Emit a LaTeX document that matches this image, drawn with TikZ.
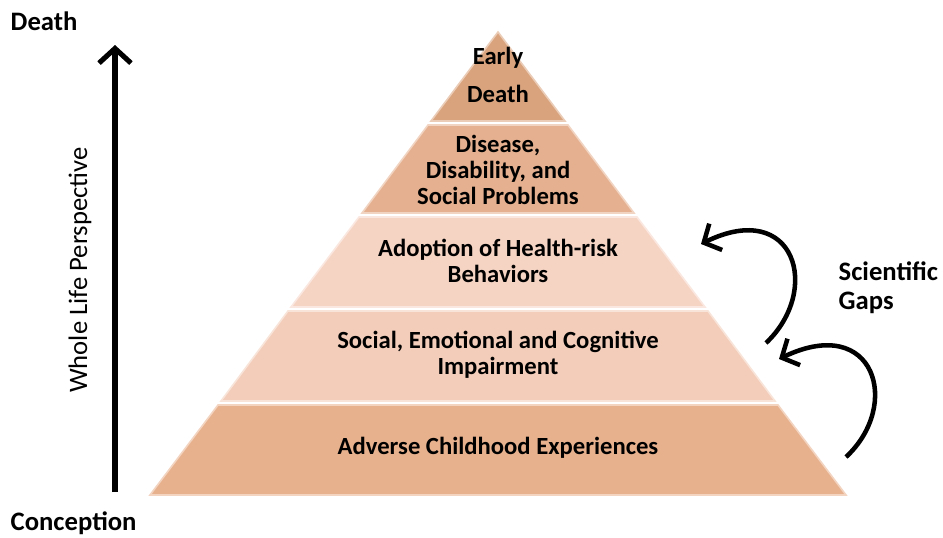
\documentclass[tikz,border=0pt]{standalone}
\usepackage{fontspec}
\setmainfont{Carlito}
\usetikzlibrary{arrows.meta,calc,positioning}
\definecolor{tierTop}{RGB}{217,163,125}
\definecolor{tierTwo}{RGB}{229,176,143}
\definecolor{tierThree}{RGB}{246,212,196}
\definecolor{tierFour}{RGB}{243,205,186}
\definecolor{tierBase}{RGB}{232,177,142}
\tikzset{
    tier/.style = {draw=#1!55!white, line width=1.2pt, fill=#1},
    tiertext/.style = {align=center, font=\fontsize{18.5}{19.5}\selectfont\bfseries},
    endlabel/.style = {anchor=west, font=\fontsize{20}{22}\selectfont\bfseries},
    gap/.style = {line width=3.4pt, -{Straight Barb[length=10pt, width=22pt, line width=3.4pt]}}
}

\begin{document}
\begin{tikzpicture}[x=0.75pt, y=-0.75pt]

    \useasboundingbox (0,0) rectangle (943,537);

    % Pyramid tiers
    \path[tier=tierTop]   (498,32) -- (565,121) -- (431,121) -- cycle;
    \path[tier=tierTwo]   (428,125) -- (568,125) -- (634,213) -- (362,213) -- cycle;
    \path[tier=tierThree] (359,217) -- (637,217) -- (705,307) -- (291,307) -- cycle;
    \path[tier=tierFour]  (288,311) -- (708,311) -- (775,401) -- (221,401) -- cycle;
    \path[tier=tierBase]  (218,405) -- (778,405) -- (846,495) -- (150,495) -- cycle;

    % Tier labels
    \node[tiertext, font=\fontsize{18.5}{28}\selectfont\bfseries] (early) at (498,75) {Early\\Death};
    \node[tiertext] (disease) at (498,170) {Disease,\\Disability, and\\Social Problems};
    \node[tiertext] (adopt) at (498,261) {Adoption of Health-risk\\Behaviors};
    \node[tiertext] (impair) at (498,355) {Social, Emotional and Cognitive\\Impairment};
    \node[tiertext] (ace) at (498,448) {Adverse Childhood Experiences};

    % Life axis
    \node[endlabel] (death) at (6,21) {Death};
    \node[endlabel] (conception) at (6,523) {Conception};
    \coordinate (axisLow) at (115,492);
    \coordinate (axisHigh) at (115,45);
    \draw[line width=3.8pt, -{Straight Barb[length=11pt, width=24pt, line width=3.8pt]}] (axisLow) -- (axisHigh);
    \node[rotate=90, font=\fontsize{20}{22}\selectfont] (whole) at (80,270) {Whole Life Perspective};

    % Scientific gaps
    \node[endlabel, align=left, font=\fontsize{20}{22}\selectfont\bfseries] (gaps) at (834,288) {Scientific\\Gaps};
    \coordinate (gapOneFrom) at (766,343);
    \coordinate (gapOneTo) at (701,244);
    \coordinate (gapTwoFrom) at (846,457);
    \coordinate (gapTwoTo) at (779,359);
    \draw[gap] (gapOneFrom) .. controls (822,290) and (795,198) .. (gapOneTo);
    \draw[gap] (gapTwoFrom) .. controls (902,405) and (875,313) .. (gapTwoTo);

\end{tikzpicture}
\end{document}
